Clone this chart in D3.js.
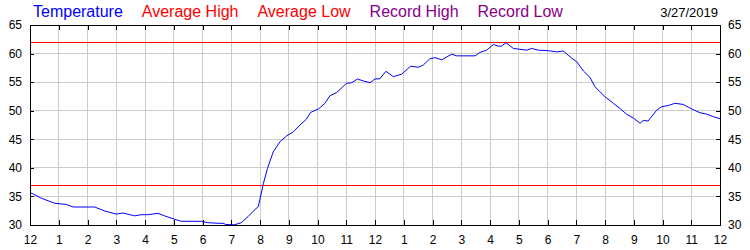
<!DOCTYPE html>
<html>
<head>
<meta charset="utf-8">
<script src="https://cdn.jsdelivr.net/npm/d3@7"></script>
<style>
  body { margin: 0; background: #fff; }
  svg { display: block; font-family: 'Liberation Sans', Arial, sans-serif; }
</style>
</head>
<body>
<div id="chart"></div>
<script>
/* global d3 */

// hours since midnight and temperature readings (deg F)
const hours = [
  0, 0.39, 0.86, 1.26, 1.5, 2.25, 2.6, 3.0, 3.23, 3.64, 3.87, 4.1, 4.45, 4.68, 5.03, 5.26,
  5.96, 6.19, 6.54, 6.72, 6.8, 7.0, 7.12, 7.35, 7.58, 7.8, 7.94, 8.12, 8.26, 8.46, 8.7, 8.93,
  9.16, 9.39, 9.62, 9.76, 10.03, 10.26, 10.43, 10.67, 11.01, 11.19, 11.39, 11.6, 11.83, 12.0,
  12.17, 12.38, 12.64, 12.93, 13.24, 13.5, 13.68, 13.9, 14.09, 14.32, 14.67, 14.84, 15.48,
  15.65, 15.88, 16.12, 16.29, 16.4, 16.56, 16.81, 17.04, 17.28, 17.45, 17.68, 18.03, 18.32,
  18.55, 18.84, 19.01, 19.25, 19.48, 19.65, 20.0, 20.29, 20.52, 20.75, 20.99, 21.22, 21.33,
  21.5, 21.8, 21.97, 22.2, 22.43, 22.72, 23.02, 23.3, 23.54, 23.77, 24.0
]
const temps = [
  35.7, 34.7, 33.8, 33.6, 33.15, 33.15, 32.45, 31.9, 32.1, 31.6, 31.8, 31.8, 32.05, 31.6, 31.0, 30.65,
  30.65, 30.4, 30.3, 30.3, 30.1, 30.05, 30.05, 30.4, 31.45, 32.6, 33.2, 37.3, 39.9, 42.8, 44.6, 45.6,
  46.3, 47.5, 48.55, 49.7, 50.3, 51.3, 52.6, 53.2, 54.8, 54.9, 55.55, 55.2, 54.9, 55.55,
  55.6, 56.9, 55.95, 56.4, 57.8, 57.6, 58.0, 59.05, 59.3, 58.9, 59.9, 59.6, 59.6,
  60.2, 60.6, 61.6, 61.3, 61.3, 61.9, 60.9, 60.75, 60.6, 60.9, 60.6, 60.5, 60.3,
  60.45, 59.2, 58.6, 56.95, 55.8, 54.2, 52.45, 51.3, 50.4, 49.4, 48.7, 47.8, 48.3,
  48.2, 50.1, 50.7, 50.9, 51.3, 51.1, 50.3, 49.65, 49.4, 48.95, 48.6
]

const averageHigh = 62
const averageLow = 37

const hourTicks = d3.range(0, 25)
const hourLabels = ['12', '1', '2', '3', '4', '5', '6', '7', '8', '9', '10', '11',
  '12', '1', '2', '3', '4', '5', '6', '7', '8', '9', '10', '11', '12']
const tempTicks = [30, 35, 40, 45, 50, 55, 60, 65]

const legendNames = ['Temperature', 'Average High', 'Average Low', 'Record High', 'Record Low']
const legendColors = ['#0000ff', '#ff0000', '#ff0000', '#880088', '#880088']
const dateLabel = '3/27/2019'

const width = 750
const height = 250
const margin = { top: 25, right: 30, bottom: 25, left: 30 }

const svg = d3.select('#chart').append('svg').attr('width', width).attr('height', height)

const x = d3.scaleLinear().domain([0, 24]).range([margin.left, width - margin.right])
const y = d3.scaleLinear().domain([30, 65]).range([height - margin.bottom, margin.top])

// grid
const grid = svg.append('g').attr('stroke', '#cccccc').attr('shape-rendering', 'crispEdges')
grid.selectAll('line.v').data(hourTicks).enter().append('line')
  .attr('x1', (d) => x(d)).attr('x2', (d) => x(d))
  .attr('y1', y(30)).attr('y2', y(65))
grid.selectAll('line.h').data(tempTicks).enter().append('line')
  .attr('x1', x(0)).attr('x2', x(24))
  .attr('y1', (d) => y(d)).attr('y2', (d) => y(d))

// average lines
svg.selectAll('line.avg').data([averageHigh, averageLow]).enter().append('line')
  .attr('x1', x(0)).attr('x2', x(24))
  .attr('y1', (d) => Math.round(y(d)) + 0.5).attr('y2', (d) => Math.round(y(d)) + 0.5)
  .attr('stroke', '#ff0000')

// temperature line
const line = d3.line().x((d, i) => x(hours[i])).y((d) => y(d))
svg.append('path')
  .datum(temps)
  .attr('d', line)
  .attr('fill', 'none')
  .attr('stroke', '#0000ff')
  .attr('stroke-width', 1)

// axes: ticks pointing into the plot
const fmtHour = (d) => hourLabels[d]
svg.append('g').attr('class', 'axis')
  .attr('transform', `translate(0,${y(30)})`)
  .call(d3.axisBottom(x).tickValues(hourTicks).tickFormat(fmtHour).tickSizeInner(-5).tickSizeOuter(0).tickPadding(10))
svg.append('g').attr('class', 'axis')
  .attr('transform', `translate(0,${y(65)})`)
  .call(d3.axisTop(x).tickValues(hourTicks).tickFormat('').tickSizeInner(-5).tickSizeOuter(0))
svg.append('g').attr('class', 'axis')
  .attr('transform', `translate(${x(0)},0)`)
  .call(d3.axisLeft(y).tickValues(tempTicks).tickSizeInner(-4).tickSizeOuter(0).tickPadding(8))
svg.append('g').attr('class', 'axis')
  .attr('transform', `translate(${x(24)},0)`)
  .call(d3.axisRight(y).tickValues(tempTicks).tickSizeInner(-4).tickSizeOuter(0).tickPadding(8))

svg.selectAll('.axis text')
  .attr('font-family', "'Liberation Sans', Arial, sans-serif")
  .attr('font-size', 12)
  .attr('fill', '#000')
svg.selectAll('.axis path, .axis line').attr('stroke', '#000').attr('shape-rendering', 'crispEdges')

// legend
let lx = 33
legendNames.forEach((name, i) => {
  const t = svg.append('text')
    .attr('x', lx)
    .attr('y', 17)
    .attr('font-size', 16)
    .attr('fill', legendColors[i])
    .text(name)
  lx += t.node().getComputedTextLength() + 19
})

svg.append('text')
  .attr('x', 718)
  .attr('y', 17)
  .attr('text-anchor', 'end')
  .attr('font-size', 13)
  .attr('fill', '#000')
  .text(dateLabel)
</script>
</body>
</html>
